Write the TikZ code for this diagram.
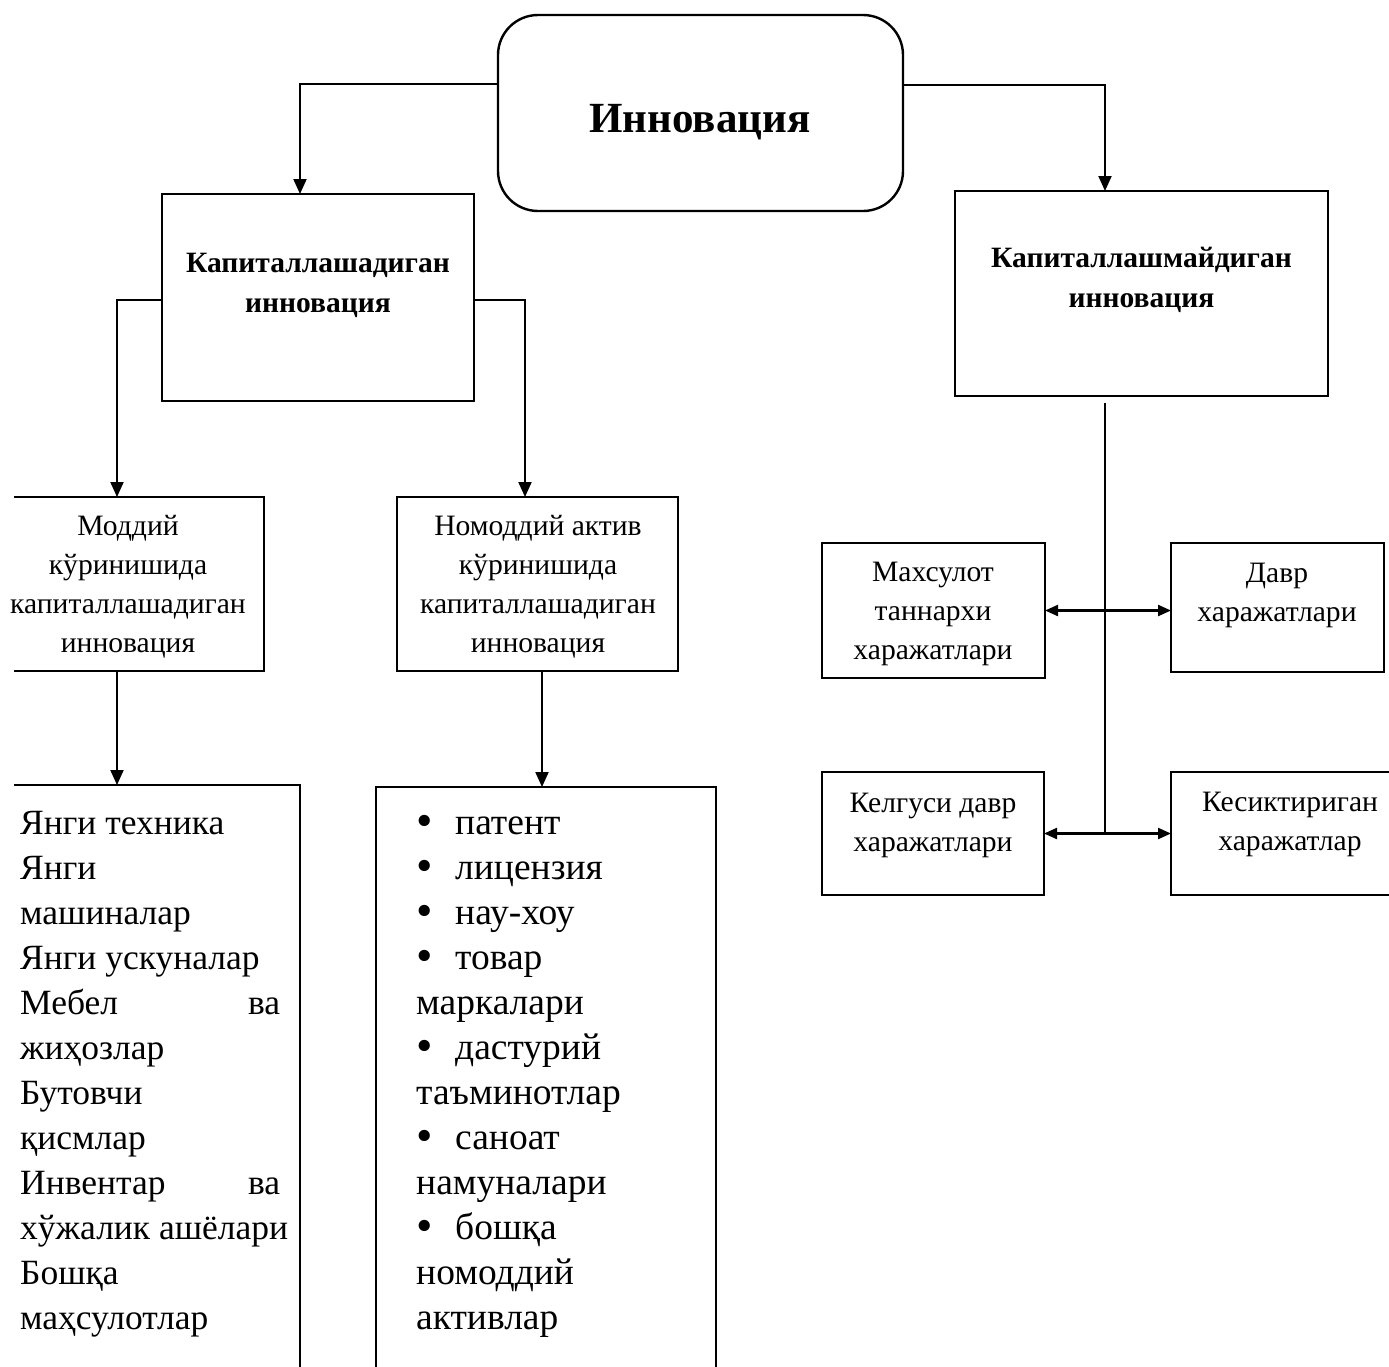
\documentclass[tikz,border=0pt]{standalone}
\usepackage{fontspec}
\setmainfont{Liberation Serif}
\usetikzlibrary{arrows.meta,calc}
\newcommand{\blt}{\makebox[39pt][l]{\raisebox{-2pt}{\fontsize{47}{45}\selectfont •}}}
\begin{document}
\begin{tikzpicture}[x=1pt,y=-1pt,
  box/.style={draw, line width=2.4pt, inner sep=0pt, outer sep=0pt},
  conn/.style={line width=2pt, -{Triangle[length=15pt,width=13pt]}},
  dconn/.style={line width=2.2pt, {Triangle[length=13pt,width=11pt]}-{Triangle[length=13pt,width=11pt]}},
  lbl/.style={inner sep=0pt, align=center, font=\fontsize{29.6}{39}\selectfont},
  blbl/.style={inner sep=0pt, align=center, font=\fontsize{29.5}{40}\selectfont\bfseries},
  lst/.style={inner sep=0pt, anchor=north west, align=left, font=\fontsize{37.5}{45}\selectfont},
]
\useasboundingbox (0,0) rectangle (1389,1366);

% boxes
\node[box, rounded corners=40pt, minimum width=405pt, minimum height=196pt] (top) at (700.5,113) {};
\node[box, minimum width=312pt, minimum height=207pt] (cap) at (318,297.5) {};
\node[box, minimum width=373pt, minimum height=205pt] (ncap) at (1141.5,293.5) {};
\begin{scope}
  \clip (14,0) rectangle (1389,1366);
  \node[box, minimum width=284pt, minimum height=174pt] (mat) at (122,584) {};
  \node[box, minimum width=320pt, minimum height=615pt] (matl) at (140,1092.5) {};
\end{scope}
\node[box, minimum width=281pt, minimum height=174pt] (nmat) at (537.5,584) {};
\node[box, minimum width=340pt, minimum height=613pt] (nmatl) at (546,1093.5) {};
\node[box, minimum width=223pt, minimum height=135pt] (tan) at (933.5,610.5) {};
\node[box, minimum width=213pt, minimum height=129pt] (davr) at (1277.5,607.5) {};
\node[box, minimum width=222pt, minimum height=123pt] (kel) at (933,833.5) {};
\node[box, minimum width=229pt, minimum height=123pt] (kes) at (1285.5,833.5) {};

% texts
\node[inner sep=0pt, font=\fontsize{43}{50}\selectfont\bfseries] (t0) at (700,122) {Инновация};
\node[blbl] (t1) at (318,285) {Капиталлашадиган\\инновация};
\node[blbl] (t2) at (1141.5,280) {Капиталлашмайдиган\\инновация};
\node[lbl] (t3) at (128,587) {Моддий\\кўринишида\\капиталлашадиган\\инновация};
\node[lbl] (t4) at (538,587) {Номоддий актив\\кўринишида\\капиталлашадиган\\инновация};
\node[lbl] (t7) at (933,614) {Махсулот\\таннархи\\харажатлари};
\node[lbl] (t8) at (1277,595) {Давр\\харажатлари};
\node[lbl] (t9) at (933,825) {Келгуси давр\\харажатлари};
\node[lbl] (t10) at (1290,824) {Кесиктириган\\харажатлар};

\node[lst, font=\fontsize{35.5}{45}\selectfont] (t5) at (20,802.5) {\strut Янги техника\\
    Янги\\
    машиналар\\
    Янги ускуналар\\
    \hbox to 260pt{Мебел\hfill ва}\\
    жиҳозлар\\
    Бутовчи\\
    қисмлар\\
    \hbox to 260pt{Инвентар\hfill ва}\\
    хўжалик ашёлари\\
    Бошқа\\
    маҳсулотлар};
\node[lst] (t6) at (416,802.5) {\strut\blt патент\\
  \blt лицензия\\
  \blt нау-хоу\\
  \blt товар\\
  маркалари\\
  \blt дастурий\\
  таъминотлар\\
  \blt саноат\\
  намуналари\\
  \blt бошқа\\
  номоддий\\
  активлар};

% connectors
\coordinate (a1) at ($(top.north west)+(0,69)$);
\coordinate (a2) at ($(top.north east)+(0,70)$);
\draw[conn] (a1) -| ($(cap.north)+(-18,0)$);
\draw[conn] (a2) -| ($(ncap.north)+(-36.5,0)$);
\draw[conn] ($(cap.west)+(0,2.5)$) -| ($(mat.north)+(-5,0)$);
\draw[conn] ($(cap.east)+(0,2.5)$) -| ($(nmat.north)+(-12.5,0)$);
\draw[conn] ($(mat.south)+(-5,0)$) -- ($(matl.north)+(-23,0)$);
\draw[conn] ($(nmat.south)+(4.5,0)$) -- ($(nmatl.north)+(-4,0)$);
\coordinate (v0) at ($(ncap.south)+(-36.5,7)$);
\coordinate (j) at (v0 |- kel.east);
\draw[line width=2pt] (v0) -- (j);
\draw[dconn] (tan.east) -- (tan.east -| davr.west);
\draw[dconn] (kel.east) -- (kes.west);
\end{tikzpicture}
\end{document}
